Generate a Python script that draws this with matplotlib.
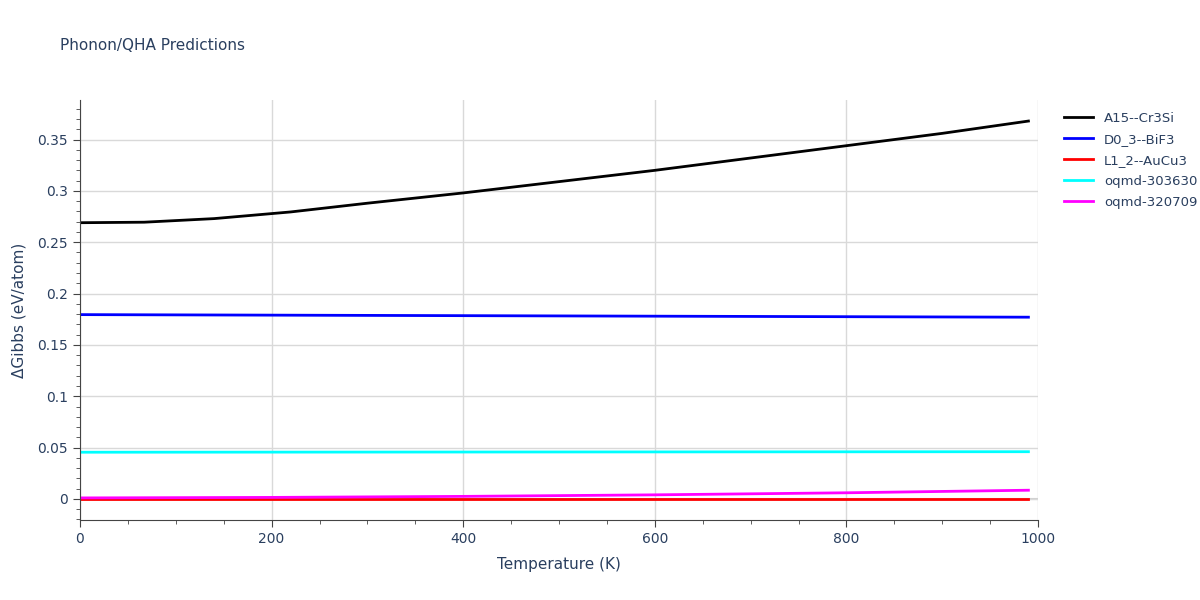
import matplotlib
matplotlib.use("Agg")
import matplotlib.pyplot as plt
from matplotlib.ticker import MultipleLocator

T_a15 = [0, 67, 140, 220, 300, 400, 500, 600, 700, 800, 900, 990]
G_a15 = [0.269, 0.2695, 0.273, 0.2795, 0.288, 0.298, 0.309, 0.320, 0.332, 0.344, 0.356, 0.368]
T_lin = [0, 990]
G_d03 = [0.1795, 0.177]
G_l12 = [0.0, 0.0]
G_303630 = [0.0455, 0.046]
T_mag = [0, 200, 400, 600, 800, 990]
G_320709 = [0.001, 0.0015, 0.0025, 0.004, 0.006, 0.0085]

fig = plt.figure(figsize=(12, 6), dpi=100)
ax = fig.add_axes([80/1200, 80/600, 958/1200, 420/600])
txt = "#2a3f5f"
ax.plot(T_a15, G_a15, color="black", lw=2, label="A15--Cr3Si")
ax.plot(T_lin, G_d03, color="blue", lw=2, label="D0_3--BiF3")
ax.plot(T_lin, G_l12, color="red", lw=2, label="L1_2--AuCu3")
ax.plot(T_lin, G_303630, color="cyan", lw=2, label="oqmd-303630")
ax.plot(T_mag, G_320709, color="magenta", lw=2, label="oqmd-320709")

ax.set_xlim(0, 1000)
ax.set_ylim(-0.0205, 0.3885)
ax.xaxis.set_major_locator(MultipleLocator(200))
ax.xaxis.set_minor_locator(MultipleLocator(50))
ax.yaxis.set_major_locator(MultipleLocator(0.05))
ax.yaxis.set_minor_locator(MultipleLocator(0.01))
ax.set_yticks([0, 0.05, 0.1, 0.15, 0.2, 0.25, 0.3, 0.35])
ax.set_yticklabels(["0", "0.05", "0.1", "0.15", "0.2", "0.25", "0.3", "0.35"])
ax.grid(True, which="major", color="#d9d9d9", lw=1)
ax.axhline(0, color="#d0d0d0", lw=1.5, zorder=0)
for s in ["top", "right"]:
    ax.spines[s].set_visible(False)
for s in ["left", "bottom"]:
    ax.spines[s].set_color("#444444")
ax.tick_params(which="both", direction="out", colors="#444444", labelcolor=txt, labelsize=10)
ax.tick_params(which="major", length=5)
ax.tick_params(which="minor", length=3)
ax.set_xlabel("Temperature (K)", color=txt, fontsize=11, labelpad=8)
ax.set_ylabel("ΔGibbs (eV/atom)", color=txt, fontsize=11, labelpad=8)
fig.text(60/1200, 1 - 45/600, "Phonon/QHA Predictions", color=txt, fontsize=11, va="center")
leg = ax.legend(loc="upper left", bbox_to_anchor=(1.015, 1.0), frameon=False, fontsize=9.5,
                handlelength=2.2, labelspacing=0.6)
for t in leg.get_texts():
    t.set_color(txt)
fig.savefig("out.png", dpi=100)
